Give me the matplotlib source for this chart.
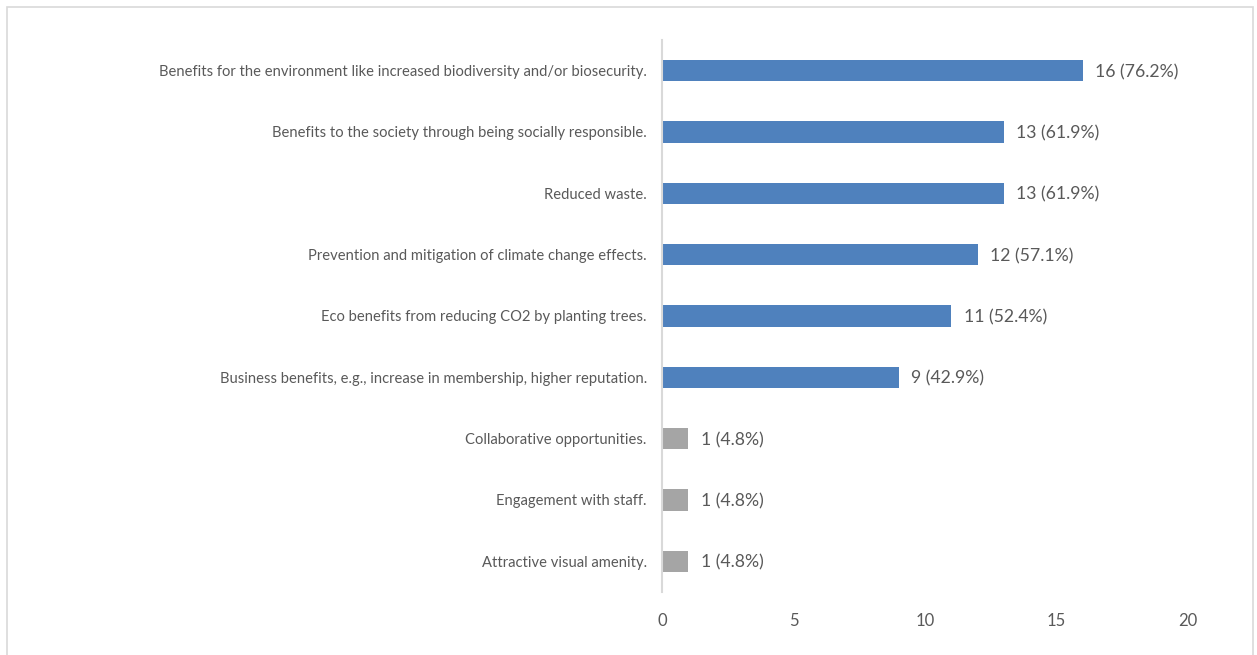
import matplotlib.pyplot as plt
from matplotlib.patches import Rectangle

plt.rcParams['font.family'] = ['Lato', 'DejaVu Sans']

# 回答类别（自上而下）
categories = [
    'Benefits for the environment like increased biodiversity and/or biosecurity.',
    'Benefits to the society through being socially responsible.',
    'Reduced waste.',
    'Prevention and mitigation of climate change effects.',
    'Eco benefits from reducing CO2 by planting trees.',
    'Business benefits, e.g., increase in membership, higher reputation.',
    'Collaborative opportunities.',
    'Engagement with staff.',
    'Attractive visual amenity.',
]
counts = [16, 13, 13, 12, 11, 9, 1, 1, 1]
percents = [76.2, 61.9, 61.9, 57.1, 52.4, 42.9, 4.8, 4.8, 4.8]
x_ticks = [0, 5, 10, 15, 20]

BLUE = '#4F81BD'
GRAY = '#A5A5A5'
TEXT = '#595959'

fig = plt.figure(figsize=(12.57, 6.55), dpi=100)
ax = fig.add_axes([0.5267, 0.0962, 0.4185, 0.8428])

# 外框
fig.patches.append(Rectangle((0.0056, -0.05), 0.9912, 1.04, transform=fig.transFigure,
                             fill=False, edgecolor='#D9D9D9', linewidth=1.2))

y = list(range(len(categories)))
colors = [BLUE if c > 1 else GRAY for c in counts]
ax.barh(y, counts, height=0.35, color=colors)

for yi, c, p in zip(y, counts, percents):
    ax.annotate(f'{c} ({p:.1f}%)', xy=(c, yi), xytext=(9, -1), textcoords='offset points',
                ha='left', va='center', fontsize=12.7, color=TEXT)

ax.set_xlim(0, 20)
ax.set_ylim(len(categories) - 0.5, -0.5)
ax.set_xticks(x_ticks)
ax.set_yticks(y)
ax.set_yticklabels(categories)

for s in ['top', 'right', 'bottom']:
    ax.spines[s].set_visible(False)
ax.spines['left'].set_color('#D9D9D9')
ax.spines['left'].set_linewidth(1.5)

ax.tick_params(axis='y', length=0, pad=11, labelsize=10.6, labelcolor=TEXT)
ax.tick_params(axis='x', length=0, pad=15, labelsize=12, labelcolor=TEXT)

fig.savefig('out.png', dpi=100)
